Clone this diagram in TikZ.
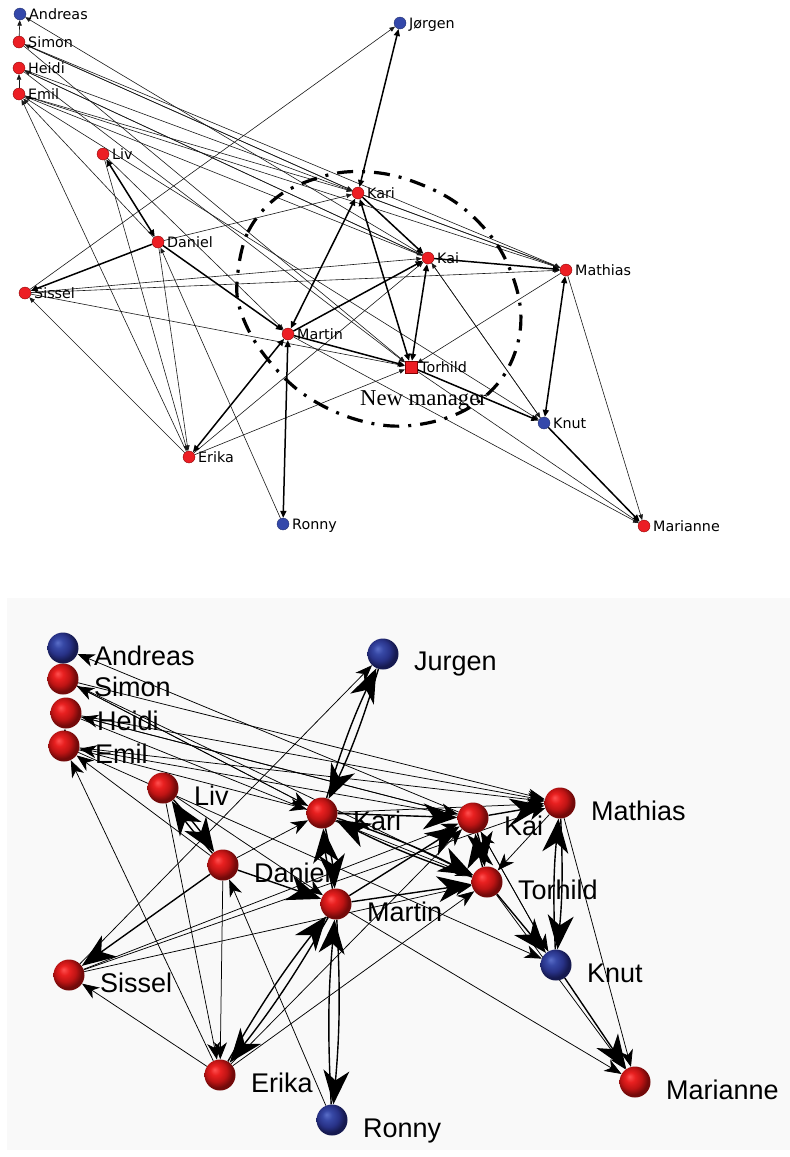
\documentclass[tikz,border=0pt]{standalone}
\usepackage{fontspec}
\newfontfamily\smallsans{DejaVu Sans}
\newfontfamily\bigsans{Liberation Sans}
\newfontfamily\notefont{Liberation Serif}
\usetikzlibrary{arrows.meta}

\definecolor{dotred}{RGB}{236,30,36}
\definecolor{dotblue}{RGB}{52,72,170}
\definecolor{panelgrey}{RGB}{249,249,249}
\definecolor{rA}{RGB}{255,80,80}
\definecolor{rB}{RGB}{232,32,32}
\definecolor{rC}{RGB}{190,20,20}
\definecolor{rD}{RGB}{115,10,10}
\definecolor{bA}{RGB}{90,110,200}
\definecolor{bB}{RGB}{55,72,165}
\definecolor{bC}{RGB}{40,50,135}
\definecolor{bD}{RGB}{22,26,80}

\pgfdeclareradialshading{redsphere}{\pgfqpoint{-9bp}{9bp}}{%
  color(0bp)=(rA); color(8bp)=(rB); color(17bp)=(rC); color(25bp)=(rD); color(50bp)=(rD)}
\pgfdeclareradialshading{bluesphere}{\pgfqpoint{-9bp}{9bp}}{%
  color(0bp)=(bA); color(8bp)=(bB); color(17bp)=(bC); color(25bp)=(bD); color(50bp)=(bD)}

\pgfdeclarelayer{panel}
\pgfdeclarelayer{links}
\pgfsetlayers{panel,links,main}

% people in the upper network
\newcommand{\upperred}{Simon/19/42, Heidi/19/68, Emil/19/94, Liv/103/154, Kari/358/193,
  Daniel/158/242, Kai/428/258, Mathias/566/270, Sissel/25/293, Martin/288/334,
  Erika/189/457, Marianne/644/526}
\newcommand{\upperblue}{Andreas/20/14, Jorgen/400/23, Knut/544/423, Ronny/283/524}
% people in the lower network
\newcommand{\lowerred}{Simon/63/679, Heidi/66/713, Emil/64/746, Liv/163/788, Kari/322/813,
  Daniel/223/865, Kai/473/818, Mathias/560/803, Sissel/69/975, Martin/336/904,
  Torhild/487/882, Erika/220/1075, Marianne/635/1082}
\newcommand{\lowerblue}{Andreas/63/648, Jorgen/383/654, Knut/556/965, Ronny/332/1120}

% ties between people
\newcommand{\weakties}{Simon/Andreas, Kai/Andreas, Kari/Simon, Emil/Heidi, Erika/Emil,
  Daniel/Emil, Kai/Heidi, Kai/Emil, Simon/Kari, Simon/Torhild, Simon/Mathias,
  Heidi/Kai, Heidi/Mathias, Heidi/Torhild, Emil/Kari, Emil/Mathias, Emil/Knut,
  Liv/Martin, Liv/Erika, Daniel/Kari, Daniel/Erika, Ronny/Daniel, Sissel/Jorgen,
  Sissel/Kai, Sissel/Mathias, Sissel/Torhild, Erika/Sissel, Kari/Mathias,
  Knut/Kai, Erika/Torhild, Erika/Kai, Mathias/Torhild, Torhild/Marianne,
  Martin/Marianne, Mathias/Marianne, Kai/Knut}
\newcommand{\strongties}{Daniel/Sissel, Daniel/Martin, Kari/Kai, Martin/Kai,
  Kai/Mathias, Martin/Torhild, Torhild/Knut, Knut/Marianne}
\newcommand{\mutualties}{Liv/Daniel, Kari/Jorgen, Kari/Martin, Kari/Torhild,
  Kai/Torhild, Martin/Erika, Martin/Ronny, Mathias/Knut}

\begin{document}
\begin{tikzpicture}[x=1pt,y=-1pt,
  tdot/.style={circle,fill=dotred,draw=red!50!black,line width=0.3pt,minimum size=12pt,inner sep=0pt},
  tbluedot/.style={tdot,fill=dotblue,draw=dotblue!60!black},
  tboxdot/.style={rectangle,fill=dotred,draw=red!50!black,line width=0.3pt,minimum size=12pt,inner sep=0pt},
  tlabel/.style={font=\smallsans\fontsize{14.3}{16}\selectfont,anchor=base west,inner sep=0pt},
  tweak/.style={line width=0.6pt,draw=black!90,-{Triangle[length=5.5pt,width=4.5pt]}},
  tstrong/.style={line width=1.5pt,-{Triangle[length=7pt,width=6pt]}},
  tmutual/.style={line width=1.5pt,{Triangle[length=7pt,width=6pt]}-{Triangle[length=7pt,width=6pt]}},
  bball/.style={circle,minimum size=31pt,inner sep=0pt,shade,shading=redsphere},
  bblueball/.style={bball,shading=bluesphere},
  blabel/.style={font=\bigsans\fontsize{27}{30}\selectfont,anchor=base west,inner sep=0pt},
  bweak/.style={line width=0.75pt,arrows={-Stealth[length=17pt,width=13pt,inset=5pt]}},
  bstrong/.style={line width=1.4pt,arrows={-Stealth[length=34pt,width=26pt,inset=10pt]}},
  manager ring/.style={line width=3.2pt,line cap=butt,dash pattern=on 16pt off 9pt on 3pt off 9pt}
]
\useasboundingbox (0,0) rectangle (790,1157);

% ---------------- upper network ----------------
\foreach \n/\x/\y in \upperred {
  \node[tdot] (t\n) at (\x,\y) {};
  \node[tlabel] (t\n-l) at ([shift={(9,5)}]t\n.center) {\n};
}
\foreach \n/\x/\y in \upperblue {
  \node[tbluedot] (t\n) at (\x,\y) {};
}
\node[tlabel] (tAndreas-l) at ([shift={(9,5)}]tAndreas.center) {Andreas};
\node[tlabel] (tJorgen-l) at ([shift={(9,5)}]tJorgen.center) {Jørgen};
\node[tlabel] (tKnut-l) at ([shift={(9,5)}]tKnut.center) {Knut};
\node[tlabel] (tRonny-l) at ([shift={(9,5)}]tRonny.center) {Ronny};
\node[tboxdot] (tTorhild) at (411,367) {};
\node[tlabel] (tTorhild-l) at ([shift={(9,5)}]tTorhild.center) {Torhild};

% ring round the new manager
\draw[manager ring] plot[smooth cycle,tension=0.6] coordinates {
  (237,282) (248,232) (280,195) (328,175) (370,172) (412,181) (458,204)
  (496,243) (517,290) (520,332) (506,372) (478,402) (440,420) (392,426)
  (343,415) (298,390) (262,352) (242,315)};
\node[font=\notefont\fontsize{22.7}{25}\selectfont,anchor=base west,inner sep=0pt]
  (newmanager) at (360,405) {New manager};

% ---------------- lower network ----------------
\begin{pgfonlayer}{panel}
  \fill[panelgrey] (7,598) rectangle (790,1150);
\end{pgfonlayer}
\foreach \n/\x/\y in \lowerred {
  \node[bball] (b\n) at (\x,\y) {};
  \node[blabel] (b\n-l) at ([shift={(31,17)}]b\n.center) {\n};
}
\foreach \n/\x/\y in \lowerblue {
  \node[bblueball] (b\n) at (\x,\y) {};
}
\node[blabel] (bAndreas-l) at ([shift={(31,17)}]bAndreas.center) {Andreas};
\node[blabel] (bJorgen-l) at ([shift={(31,16)}]bJorgen.center) {Jurgen};
\node[blabel] (bKnut-l) at ([shift={(31,17)}]bKnut.center) {Knut};
\node[blabel] (bRonny-l) at ([shift={(31,17)}]bRonny.center) {Ronny};

% ---------------- ties ----------------
\begin{pgfonlayer}{links}
\foreach \a/\b in \weakties {
  \draw[tweak] (t\a) -- (t\b);
  \draw[bweak] (b\a) -- (b\b);
}
\foreach \a/\b in \strongties {
  \draw[tstrong] (t\a) -- (t\b);
  \draw[bstrong] (b\a) -- (b\b);
}
\foreach \a/\b in \mutualties {
  \draw[tmutual] (t\a) -- (t\b);
  \draw[bstrong] (b\a) to[bend left=4] (b\b);
  \draw[bstrong] (b\b) to[bend left=4] (b\a);
}
\end{pgfonlayer}
\end{tikzpicture}
\end{document}
